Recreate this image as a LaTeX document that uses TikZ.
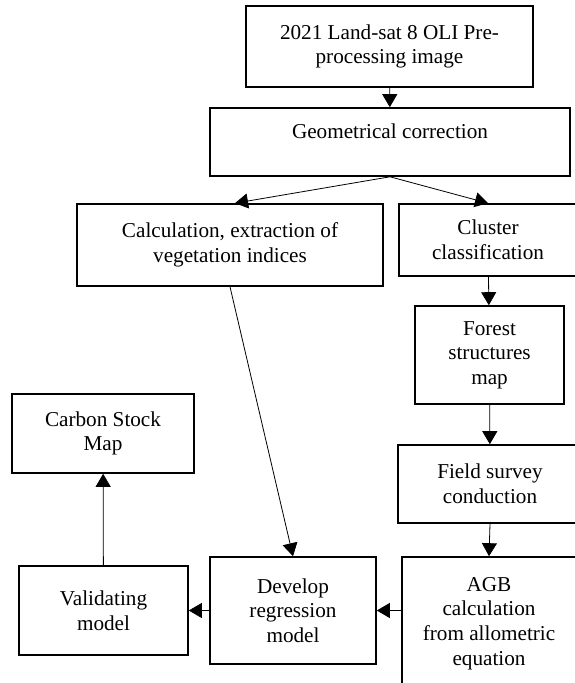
\documentclass[tikz,border=0pt]{standalone}
\usepackage{fontspec}
\setmainfont{Liberation Serif}
\usepackage{tikz}
\usetikzlibrary{positioning, arrows.meta, calc}

\begin{document}
\begin{tikzpicture}[x=0.5pt, y=-0.5pt,
        box/.style={draw, line width=0.8pt, align=center, inner sep=0pt,
            font=\fontsize{10.6}{12.3}\selectfont},
        conn/.style={-{Triangle[length=6.5pt,width=7.5pt]}, line width=0.4pt}]
        % Page frame
        \useasboundingbox (0,0) rectangle (574,683);

        % Image preparation
        \node[box, minimum width=143.5pt, minimum height=40.5pt] (land) at (389.5,46.5)
            {2021 Land-sat 8 OLI Pre-\\processing image};
        \node[box, minimum width=180pt, minimum height=34pt, text depth=11pt] (geo) at (390,142)
            {Geometrical correction};

        % Two branches
        \node[box, minimum width=153pt, minimum height=41pt] (calc) at (230,245)
            {Calculation, extraction of\\vegetation indices};
        \node[box, minimum width=89pt, minimum height=36pt] (clus) at (488,240)
            {Cluster\\classification};

        % Right column
        \node[box, minimum width=74.5pt, minimum height=49pt] (forest) at (489.5,355)
            {Forest\\structures\\map};
        \node[box, minimum width=92pt, minimum height=39pt] (field) at (490,484)
            {Field survey\\conduction};
        \node[box, minimum width=87pt, minimum height=66.5pt] (agb) at (489,623.5)
            {AGB\\calculation\\from allometric\\equation};

        % Bottom row and output
        \node[box, minimum width=83pt, minimum height=53.5pt] (dev) at (293,610.5)
            {Develop\\regression\\model};
        \node[box, minimum width=84.5pt, minimum height=44.5pt] (val) at (103.5,610.5)
            {Validating\\model};
        \node[box, minimum width=91pt, minimum height=39.5pt] (carbon) at (103,433.5)
            {Carbon Stock\\Map};

        % Connectors
        \draw[conn] (land) -- (geo);
        \draw[conn] (geo.south) -- ([xshift=2.5pt]calc.north);
        \draw[conn] (geo.south) -- (clus.north);
        \draw[conn] (clus) -- (forest);
        \draw[conn] (forest) -- (field);
        \draw[conn] (field.south) -- (agb.north);
        \draw[conn] (calc.south) -- (dev.north);
        \draw[conn] (dev.east -| agb.west) -- (dev.east);
        \draw[conn] (dev) -- (val);
        \draw[conn] (val) -- (carbon);
    \end{tikzpicture}
\end{document}
